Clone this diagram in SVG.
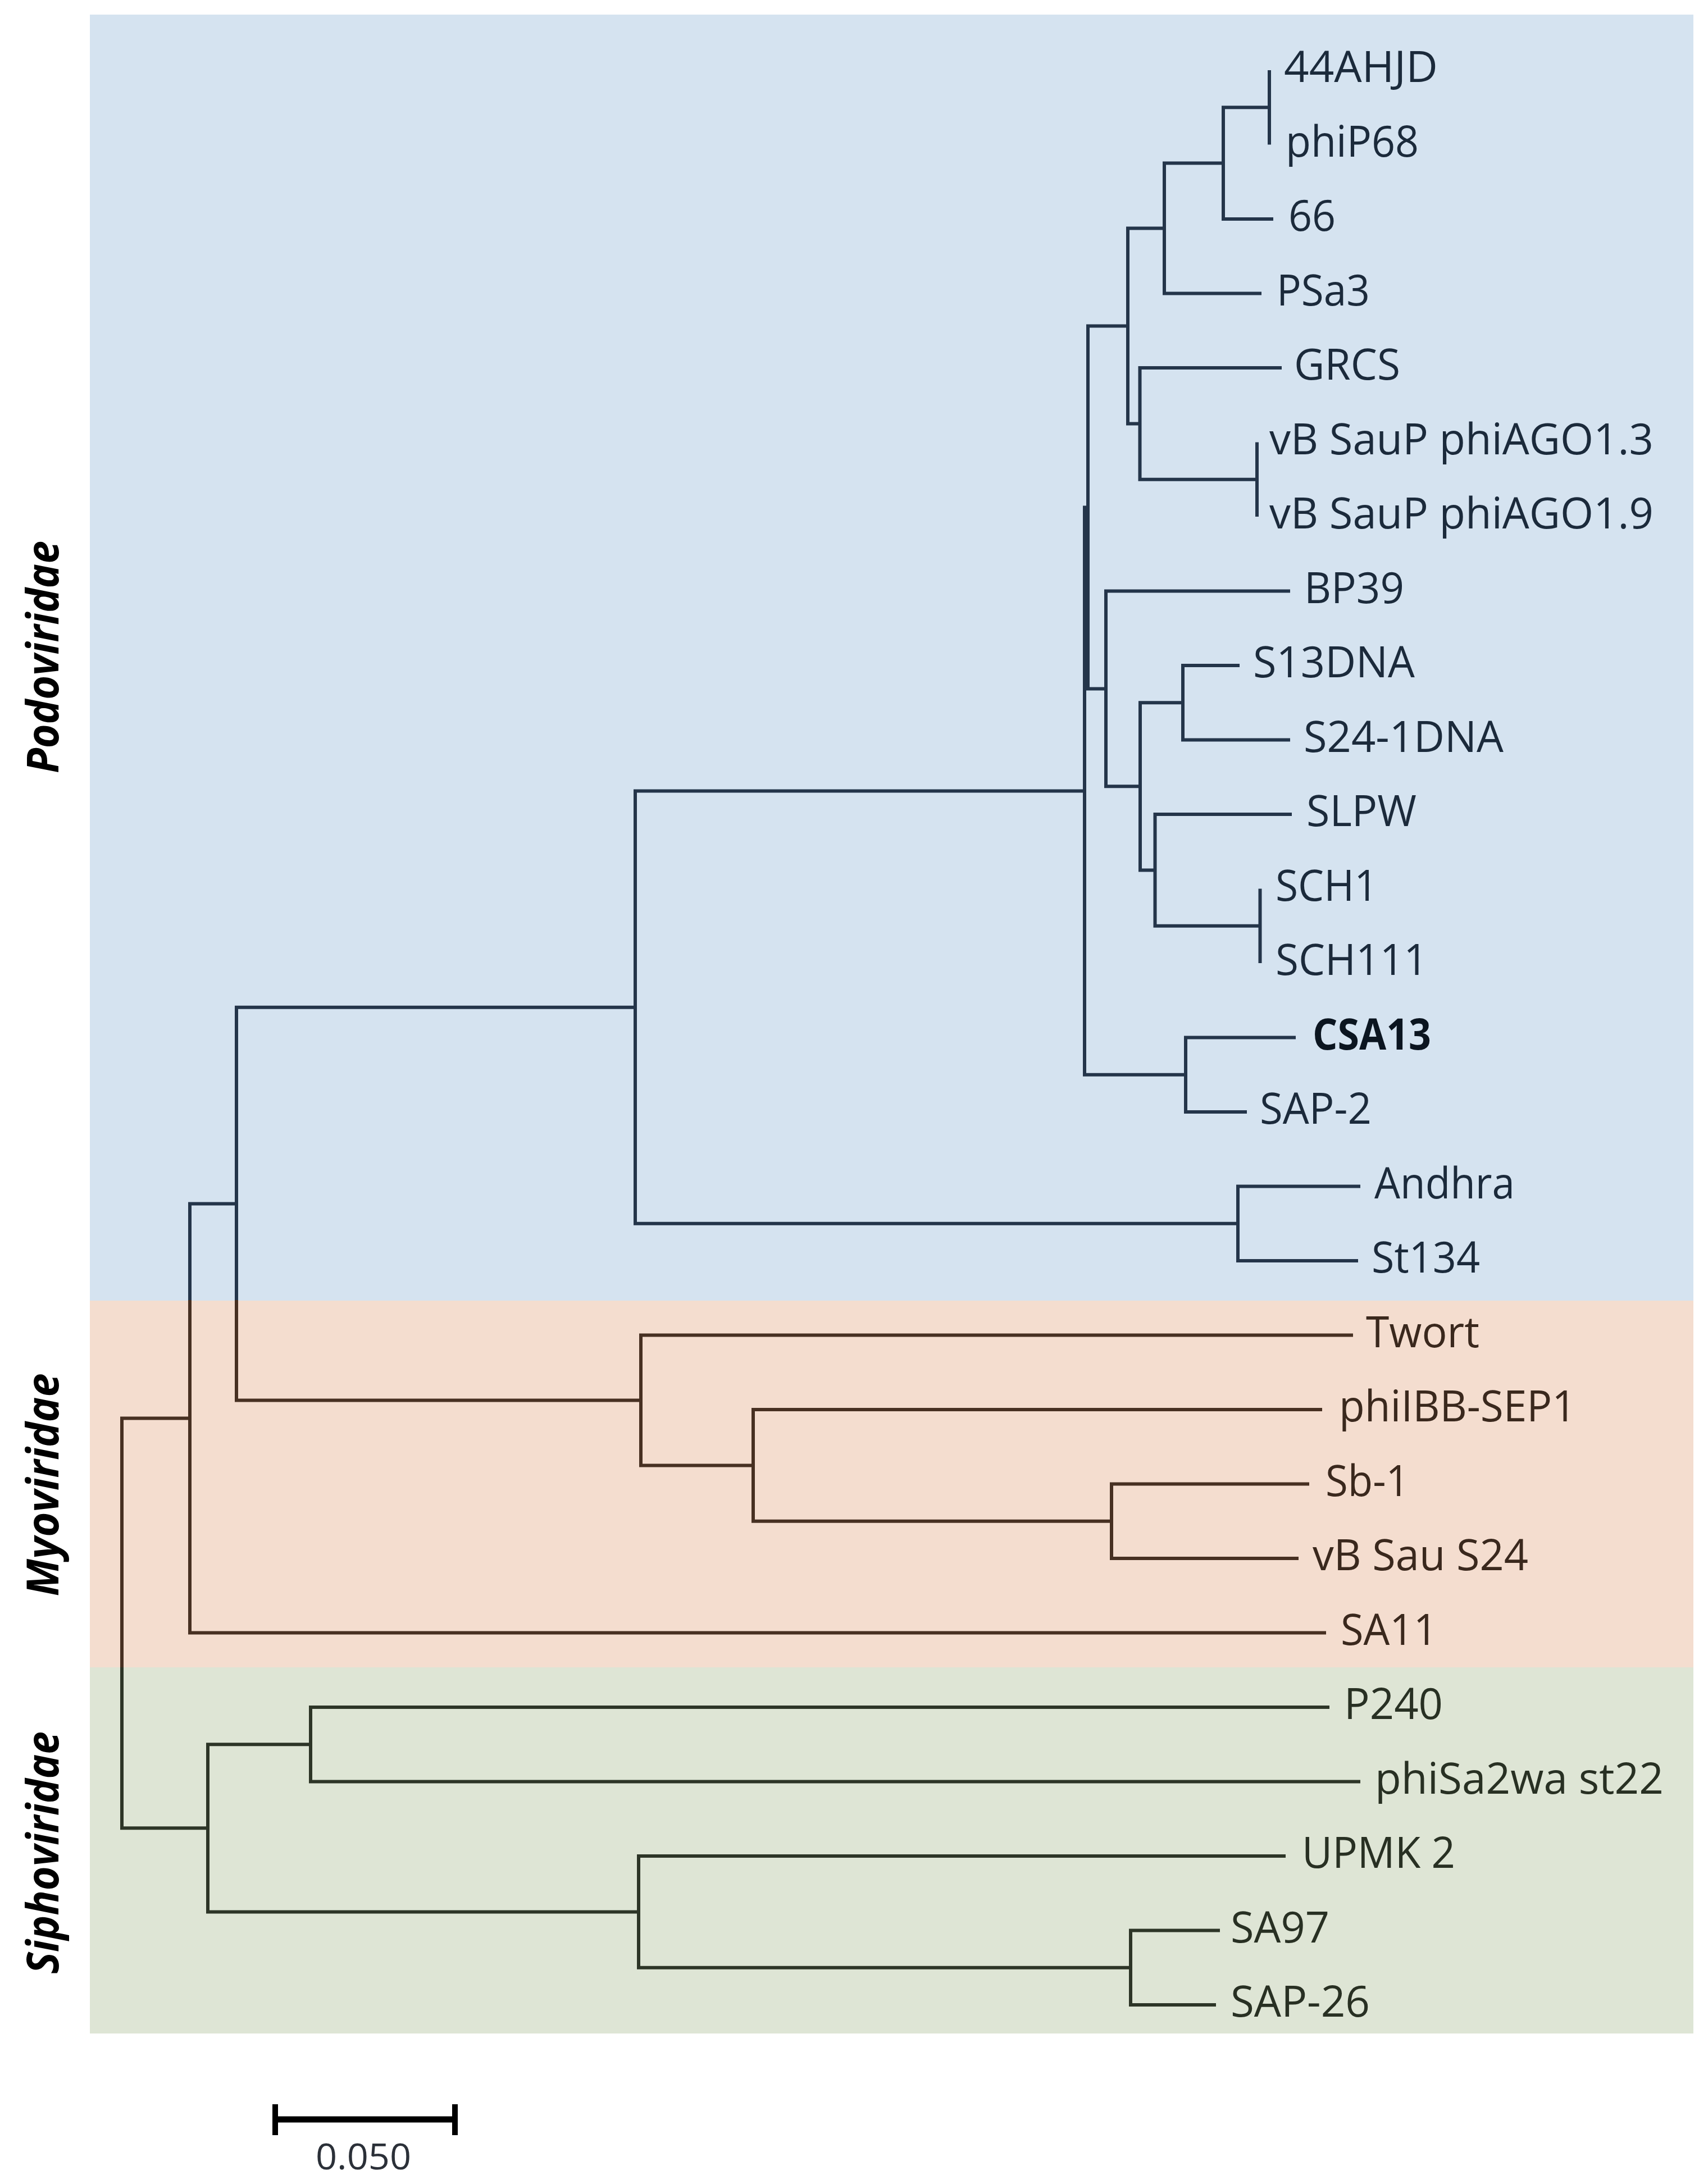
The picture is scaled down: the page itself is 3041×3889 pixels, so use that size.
<svg xmlns="http://www.w3.org/2000/svg" width="3041" height="3889" viewBox="0 0 3041 3889">
<defs>
<linearGradient id="lineGrad" gradientUnits="userSpaceOnUse" x1="0" y1="0" x2="0" y2="3889">
<stop offset="0" stop-color="#24354a"/>
<stop offset="0.5953" stop-color="#24354a"/>
<stop offset="0.5953" stop-color="#473022"/>
<stop offset="0.7634" stop-color="#473022"/>
<stop offset="0.7634" stop-color="#2d3527"/>
<stop offset="1" stop-color="#2d3527"/>
</linearGradient>
<style>
.br{fill:none;stroke:url(#lineGrad);stroke-width:6;stroke-linejoin:miter;stroke-linecap:butt}
.lbl{font-family:"Open Sans","Noto Sans","DejaVu Sans",sans-serif;font-size:77px}
.podo{fill:#1b2a3b}
.myo{fill:#3a281d}
.sipho{fill:#283023}
.bold{font-weight:bold;fill:#0b1520}
.fam{font-family:"Open Sans","Noto Sans","DejaVu Sans",sans-serif;font-size:78px;font-weight:bold;font-style:italic;fill:#000;text-anchor:middle}
</style>
</defs>
<rect x="0" y="0" width="3041" height="3889" fill="#ffffff"/>
<g id="panels">
<rect x="160" y="26" width="2855" height="2290" fill="#d5e3f0"/>
<rect x="160" y="2316" width="2855" height="653" fill="#f4ddcf"/>
<rect x="160" y="2969" width="2855" height="652" fill="#dee5d5"/>
</g>
<g id="families">
<text class="fam" transform="translate(104,1170) rotate(-90)" textLength="414" lengthAdjust="spacingAndGlyphs">Podoviridae</text>
<text class="fam" transform="translate(104,2644) rotate(-90)" textLength="397" lengthAdjust="spacingAndGlyphs">Myoviridae</text>
<text class="fam" transform="translate(104,3299) rotate(-90)" textLength="432" lengthAdjust="spacingAndGlyphs">Siphoviridae</text>
</g>
<g id="connectors">
<path class="br" d="M2260 125 V257.5"/>
<path class="br" d="M2260 191.25 H2178 V390 H2267"/>
<path class="br" d="M2178 290.6 H2073 V522.5 H2246"/>
<path class="br" d="M2238 787.5 V920"/>
<path class="br" d="M2282 655 H2029.5 V853.75 H2238"/>
<path class="br" d="M2073 406.6 H2008 V754.4 H2029.5"/>
<path class="br" d="M2207 1185 H2106 V1317.5 H2297"/>
<path class="br" d="M2243.5 1582.5 V1715"/>
<path class="br" d="M2300 1450 H2056.5 V1648.75 H2243.5"/>
<path class="br" d="M2106 1251.25 H2030 V1549.4 H2056.5"/>
<path class="br" d="M2297 1052.5 H1969 V1400.3 H2030"/>
<path class="br" d="M2008 580.5 H1937 V1226.4 H1969"/>
<path class="br" d="M2307 1847.5 H2111 V1980 H2220"/>
<path class="br" d="M1937 903.5 H1931 V1913.75 H2111"/>
<path class="br" d="M2422 2112.5 H2204 V2245 H2418"/>
<path class="br" d="M1931 1408.6 H1131 V2178.75 H2204"/>
<path class="br" d="M2331 2642.5 H1979 V2775 H2312"/>
<path class="br" d="M2354 2510 H1341 V2708.75 H1979"/>
<path class="br" d="M2409 2377.5 H1141 V2609.4 H1341"/>
<path class="br" d="M1131 1793.7 H421 V2493.4 H1141"/>
<path class="br" d="M421 2143.5 H338 V2907.5 H2361"/>
<path class="br" d="M2367 3040 H553 V3172.5 H2422"/>
<path class="br" d="M2172 3437.5 H2013 V3570 H2165"/>
<path class="br" d="M2289 3305 H1137 V3503.75 H2013"/>
<path class="br" d="M553 3106.25 H370 V3404.4 H1137"/>
<path class="br" d="M338 2525.5 H217 V3255.3 H370"/>
</g>
<g id="leaf-44AHJD"><text class="lbl podo" x="2286" y="146" textLength="274" lengthAdjust="spacingAndGlyphs">44AHJD</text></g>
<g id="leaf-phiP68"><text class="lbl podo" x="2289" y="278.5" textLength="237" lengthAdjust="spacingAndGlyphs">phiP68</text></g>
<g id="leaf-66"><text class="lbl podo" x="2294" y="411" textLength="84" lengthAdjust="spacingAndGlyphs">66</text></g>
<g id="leaf-PSa3"><text class="lbl podo" x="2273" y="543.5" textLength="166" lengthAdjust="spacingAndGlyphs">PSa3</text></g>
<g id="leaf-GRCS"><text class="lbl podo" x="2304" y="676" textLength="189" lengthAdjust="spacingAndGlyphs">GRCS</text></g>
<g id="leaf-phiAGO1.3"><text class="lbl podo" x="2260" y="808.5" textLength="684" lengthAdjust="spacingAndGlyphs">vB SauP phiAGO1.3</text></g>
<g id="leaf-phiAGO1.9"><text class="lbl podo" x="2260" y="941" textLength="684" lengthAdjust="spacingAndGlyphs">vB SauP phiAGO1.9</text></g>
<g id="leaf-BP39"><text class="lbl podo" x="2322" y="1073.5" textLength="178" lengthAdjust="spacingAndGlyphs">BP39</text></g>
<g id="leaf-S13DNA"><text class="lbl podo" x="2231" y="1206" textLength="288" lengthAdjust="spacingAndGlyphs">S13DNA</text></g>
<g id="leaf-S24-1DNA"><text class="lbl podo" x="2321" y="1338.5" textLength="356" lengthAdjust="spacingAndGlyphs">S24-1DNA</text></g>
<g id="leaf-SLPW"><text class="lbl podo" x="2326" y="1471" textLength="196" lengthAdjust="spacingAndGlyphs">SLPW</text></g>
<g id="leaf-SCH1"><text class="lbl podo" x="2271" y="1603.5" textLength="182" lengthAdjust="spacingAndGlyphs">SCH1</text></g>
<g id="leaf-SCH111"><text class="lbl podo" x="2271" y="1736" textLength="271" lengthAdjust="spacingAndGlyphs">SCH111</text></g>
<g id="leaf-CSA13"><text class="lbl bold" x="2337" y="1868.5" textLength="211" lengthAdjust="spacingAndGlyphs">CSA13</text></g>
<g id="leaf-SAP-2"><text class="lbl podo" x="2243" y="2001" textLength="199" lengthAdjust="spacingAndGlyphs">SAP-2</text></g>
<g id="leaf-Andhra"><text class="lbl podo" x="2447" y="2133.5" textLength="250" lengthAdjust="spacingAndGlyphs">Andhra</text></g>
<g id="leaf-St134"><text class="lbl podo" x="2442" y="2266" textLength="193" lengthAdjust="spacingAndGlyphs">St134</text></g>
<g id="leaf-Twort"><text class="lbl myo" x="2432" y="2398.5" textLength="202" lengthAdjust="spacingAndGlyphs">Twort</text></g>
<g id="leaf-phiIBB-SEP1"><text class="lbl myo" x="2384" y="2531" textLength="422" lengthAdjust="spacingAndGlyphs">phiIBB-SEP1</text></g>
<g id="leaf-Sb-1"><text class="lbl myo" x="2360" y="2663.5" textLength="149" lengthAdjust="spacingAndGlyphs">Sb-1</text></g>
<g id="leaf-vB-Sau-S24"><text class="lbl myo" x="2337" y="2796" textLength="384" lengthAdjust="spacingAndGlyphs">vB Sau S24</text></g>
<g id="leaf-SA11"><text class="lbl myo" x="2387" y="2928.5" textLength="172" lengthAdjust="spacingAndGlyphs">SA11</text></g>
<g id="leaf-P240"><text class="lbl sipho" x="2393" y="3061" textLength="176" lengthAdjust="spacingAndGlyphs">P240</text></g>
<g id="leaf-phiSa2wa-st22"><text class="lbl sipho" x="2448" y="3193.5" textLength="514" lengthAdjust="spacingAndGlyphs">phiSa2wa st22</text></g>
<g id="leaf-UPMK-2"><text class="lbl sipho" x="2318" y="3326" textLength="273" lengthAdjust="spacingAndGlyphs">UPMK 2</text></g>
<g id="leaf-SA97"><text class="lbl sipho" x="2191" y="3458.5" textLength="176" lengthAdjust="spacingAndGlyphs">SA97</text></g>
<g id="leaf-SAP-26"><text class="lbl sipho" x="2191" y="3591" textLength="248" lengthAdjust="spacingAndGlyphs">SAP-26</text></g>
<g id="scale-bar">
<path d="M490 3774 H810" fill="none" stroke="#000" stroke-width="11"/>
<path d="M490 3747 V3802 M810 3747 V3802" fill="none" stroke="#000" stroke-width="10"/>
<text x="647" y="3863" text-anchor="middle" font-family="'Open Sans','Noto Sans',sans-serif" font-size="64" fill="#2b3038" textLength="170" lengthAdjust="spacingAndGlyphs">0.050</text>
</g>
</svg>
